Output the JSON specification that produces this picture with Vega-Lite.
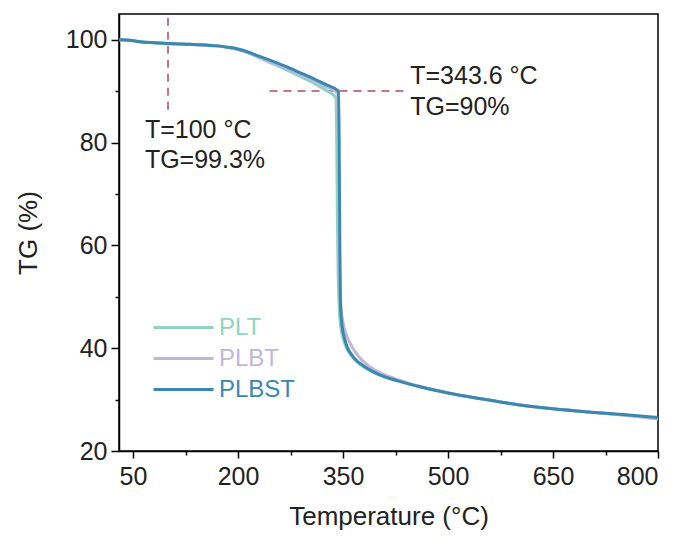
{
  "$schema": "https://vega.github.io/schema/vega-lite/v6.json",
  "autosize": "none",
  "width": 539,
  "height": 437,
  "padding": {"left": 119, "top": 14, "right": 27, "bottom": 87},
  "background": "white",
  "config": {
    "font": "Liberation Sans",
    "view": {"stroke": "black", "strokeWidth": 1.5},
    "axis": {
      "grid": false,
      "domainColor": "black",
      "domainWidth": 1.5,
      "tickColor": "black",
      "tickWidth": 1.5,
      "labelColor": "#222222",
      "titleColor": "#222222",
      "labelFont": "Liberation Sans",
      "titleFont": "Liberation Sans",
      "labelFontSize": 25,
      "titleFontSize": 26,
      "titleFontWeight": "normal"
    }
  },
  "datasets": {
    "curves": [
      {"series": "PLT", "temp": 30, "tg": 100},
      {"series": "PLT", "temp": 45, "tg": 99.9},
      {"series": "PLT", "temp": 60, "tg": 99.6},
      {"series": "PLT", "temp": 80, "tg": 99.4},
      {"series": "PLT", "temp": 100, "tg": 99.25},
      {"series": "PLT", "temp": 130, "tg": 99.1},
      {"series": "PLT", "temp": 155, "tg": 98.95},
      {"series": "PLT", "temp": 170, "tg": 98.8},
      {"series": "PLT", "temp": 185, "tg": 98.5},
      {"series": "PLT", "temp": 200, "tg": 98.1},
      {"series": "PLT", "temp": 215, "tg": 97.4},
      {"series": "PLT", "temp": 230, "tg": 96.5},
      {"series": "PLT", "temp": 250, "tg": 95.3},
      {"series": "PLT", "temp": 270, "tg": 94.1},
      {"series": "PLT", "temp": 290, "tg": 92.8},
      {"series": "PLT", "temp": 310, "tg": 91.4},
      {"series": "PLT", "temp": 325, "tg": 90.2},
      {"series": "PLT", "temp": 338, "tg": 89.0},
      {"series": "PLT", "temp": 340, "tg": 88.5},
      {"series": "PLT", "temp": 341, "tg": 80},
      {"series": "PLT", "temp": 342, "tg": 65},
      {"series": "PLT", "temp": 343, "tg": 55},
      {"series": "PLT", "temp": 344.5, "tg": 48},
      {"series": "PLT", "temp": 347, "tg": 44},
      {"series": "PLT", "temp": 350, "tg": 42},
      {"series": "PLT", "temp": 355, "tg": 40},
      {"series": "PLT", "temp": 362, "tg": 38.5},
      {"series": "PLT", "temp": 370, "tg": 37.3},
      {"series": "PLT", "temp": 380, "tg": 36.3},
      {"series": "PLT", "temp": 395, "tg": 35.2},
      {"series": "PLT", "temp": 410, "tg": 34.4},
      {"series": "PLT", "temp": 430, "tg": 33.6},
      {"series": "PLT", "temp": 460, "tg": 32.5},
      {"series": "PLT", "temp": 500, "tg": 31.3},
      {"series": "PLT", "temp": 550, "tg": 30.1},
      {"series": "PLT", "temp": 600, "tg": 29.0},
      {"series": "PLT", "temp": 650, "tg": 28.2},
      {"series": "PLT", "temp": 700, "tg": 27.6},
      {"series": "PLT", "temp": 750, "tg": 27.0},
      {"series": "PLT", "temp": 800, "tg": 26.3},
      {"series": "PLBT", "temp": 30, "tg": 100},
      {"series": "PLBT", "temp": 45, "tg": 99.9},
      {"series": "PLBT", "temp": 60, "tg": 99.6},
      {"series": "PLBT", "temp": 80, "tg": 99.4},
      {"series": "PLBT", "temp": 100, "tg": 99.25},
      {"series": "PLBT", "temp": 130, "tg": 99.1},
      {"series": "PLBT", "temp": 155, "tg": 98.95},
      {"series": "PLBT", "temp": 170, "tg": 98.8},
      {"series": "PLBT", "temp": 185, "tg": 98.5},
      {"series": "PLBT", "temp": 200, "tg": 98.1},
      {"series": "PLBT", "temp": 215, "tg": 97.45},
      {"series": "PLBT", "temp": 230, "tg": 96.6},
      {"series": "PLBT", "temp": 250, "tg": 95.5},
      {"series": "PLBT", "temp": 270, "tg": 94.4},
      {"series": "PLBT", "temp": 290, "tg": 93.2},
      {"series": "PLBT", "temp": 310, "tg": 91.9},
      {"series": "PLBT", "temp": 325, "tg": 90.9},
      {"series": "PLBT", "temp": 342, "tg": 89.6},
      {"series": "PLBT", "temp": 343.5, "tg": 80},
      {"series": "PLBT", "temp": 344.5, "tg": 65},
      {"series": "PLBT", "temp": 345.5, "tg": 55},
      {"series": "PLBT", "temp": 347, "tg": 48},
      {"series": "PLBT", "temp": 350, "tg": 45},
      {"series": "PLBT", "temp": 355, "tg": 42.5},
      {"series": "PLBT", "temp": 362, "tg": 40.5},
      {"series": "PLBT", "temp": 370, "tg": 38.8},
      {"series": "PLBT", "temp": 380, "tg": 37.3},
      {"series": "PLBT", "temp": 395, "tg": 35.8},
      {"series": "PLBT", "temp": 410, "tg": 34.8},
      {"series": "PLBT", "temp": 430, "tg": 33.8},
      {"series": "PLBT", "temp": 460, "tg": 32.6},
      {"series": "PLBT", "temp": 500, "tg": 31.3},
      {"series": "PLBT", "temp": 550, "tg": 30.1},
      {"series": "PLBT", "temp": 600, "tg": 29.0},
      {"series": "PLBT", "temp": 650, "tg": 28.2},
      {"series": "PLBT", "temp": 700, "tg": 27.6},
      {"series": "PLBT", "temp": 750, "tg": 27.0},
      {"series": "PLBT", "temp": 800, "tg": 26.2},
      {"series": "PLBST", "temp": 30, "tg": 100},
      {"series": "PLBST", "temp": 45, "tg": 99.9},
      {"series": "PLBST", "temp": 60, "tg": 99.6},
      {"series": "PLBST", "temp": 80, "tg": 99.4},
      {"series": "PLBST", "temp": 100, "tg": 99.25},
      {"series": "PLBST", "temp": 130, "tg": 99.1},
      {"series": "PLBST", "temp": 155, "tg": 98.95},
      {"series": "PLBST", "temp": 170, "tg": 98.8},
      {"series": "PLBST", "temp": 185, "tg": 98.55},
      {"series": "PLBST", "temp": 200, "tg": 98.2},
      {"series": "PLBST", "temp": 215, "tg": 97.6},
      {"series": "PLBST", "temp": 230, "tg": 96.8},
      {"series": "PLBST", "temp": 250, "tg": 95.8},
      {"series": "PLBST", "temp": 270, "tg": 94.7},
      {"series": "PLBST", "temp": 290, "tg": 93.5},
      {"series": "PLBST", "temp": 310, "tg": 92.3},
      {"series": "PLBST", "temp": 325, "tg": 91.3},
      {"series": "PLBST", "temp": 343.6, "tg": 90.0},
      {"series": "PLBST", "temp": 344.5, "tg": 80},
      {"series": "PLBST", "temp": 345, "tg": 70},
      {"series": "PLBST", "temp": 345.5, "tg": 60},
      {"series": "PLBST", "temp": 346, "tg": 52},
      {"series": "PLBST", "temp": 347, "tg": 47},
      {"series": "PLBST", "temp": 349, "tg": 44},
      {"series": "PLBST", "temp": 352, "tg": 42},
      {"series": "PLBST", "temp": 356, "tg": 40.2},
      {"series": "PLBST", "temp": 362, "tg": 38.8},
      {"series": "PLBST", "temp": 370, "tg": 37.5},
      {"series": "PLBST", "temp": 380, "tg": 36.5},
      {"series": "PLBST", "temp": 395, "tg": 35.3},
      {"series": "PLBST", "temp": 410, "tg": 34.4},
      {"series": "PLBST", "temp": 430, "tg": 33.6},
      {"series": "PLBST", "temp": 460, "tg": 32.5},
      {"series": "PLBST", "temp": 500, "tg": 31.3},
      {"series": "PLBST", "temp": 550, "tg": 30.1},
      {"series": "PLBST", "temp": 600, "tg": 29.0},
      {"series": "PLBST", "temp": 650, "tg": 28.2},
      {"series": "PLBST", "temp": 700, "tg": 27.6},
      {"series": "PLBST", "temp": 750, "tg": 27.1},
      {"series": "PLBST", "temp": 800, "tg": 26.5}
    ],
    "guides": [
      {"x": 100, "x2": 100, "y": 86.4, "y2": 105},
      {"x": 245, "x2": 440, "y": 90, "y2": 90}
    ],
    "notes": [
      {"x": 67, "y": 80.9, "label": "T=100 °C"},
      {"x": 67, "y": 75.1, "label": "TG=99.3%"},
      {"x": 446, "y": 91.4, "label": "T=343.6 °C"},
      {"x": 446, "y": 85.4, "label": "TG=90%"}
    ]
  },
  "layer": [
    {
      "data": {"name": "guides"},
      "mark": {"type": "rule", "color": "#b5475f", "strokeWidth": 1.5, "strokeDash": [8, 6]},
      "encoding": {
        "x": {"field": "x", "type": "quantitative", "scale": {"domain": [30, 800], "nice": false, "zero": false},
          "title": "Temperature (°C)",
          "axis": {
            "values": [50, 125, 200, 275, 350, 425, 500, 575, 650, 725, 800],
            "labelExpr": "datum.value % 150 == 50 ? datum.label : ''",
            "tickSize": {"condition": {"test": "datum.value % 150 == 50", "value": 7}, "value": 4},
            "labelPadding": 6,
            "titlePadding": 14
          }
        },
        "x2": {"field": "x2"},
        "y": {"field": "y", "type": "quantitative", "scale": {"domain": [20, 105], "nice": false, "zero": false},
          "title": "TG (%)",
          "axis": {
            "values": [20, 30, 40, 50, 60, 70, 80, 90, 100],
            "labelExpr": "datum.value % 20 == 0 ? datum.label : ''",
            "tickSize": {"condition": {"test": "datum.value % 20 == 0", "value": 8}, "value": 4},
            "labelPadding": 4,
            "titlePadding": 24
          }
        },
        "y2": {"field": "y2"}
      }
    },
    {
      "data": {"name": "curves"},
      "transform": [{"filter": "datum.series == 'PLT'"}],
      "mark": {"type": "line", "strokeWidth": 3, "interpolate": "monotone"},
      "encoding": {
        "x": {"field": "temp", "type": "quantitative"},
        "y": {"field": "tg", "type": "quantitative"},
        "color": {"field": "series", "type": "nominal",
          "scale": {"domain": ["PLT", "PLBT", "PLBST"], "range": ["#8fd4c3", "#bfb7da", "#3a87b0"]},
          "legend": {
            "title": null,
            "orient": "none",
            "legendX": 48,
            "legendY": 297,
            "symbolType": "M-2,0L2,0",
            "symbolSize": 900,
            "symbolStrokeWidth": 3,
            "labelFontSize": 24,
            "labelFont": "Liberation Sans",
            "labelOffset": 19,
            "rowPadding": 2,
            "encode": {"labels": {"update": {"fill": {"signal": "scale('color', datum.value)"}}}}
          }
        }
      }
    },
    {
      "data": {"name": "curves"},
      "transform": [{"filter": "datum.series == 'PLBT'"}],
      "mark": {"type": "line", "strokeWidth": 3, "interpolate": "monotone"},
      "encoding": {
        "x": {"field": "temp", "type": "quantitative"},
        "y": {"field": "tg", "type": "quantitative"},
        "color": {"field": "series", "type": "nominal"}
      }
    },
    {
      "data": {"name": "curves"},
      "transform": [{"filter": "datum.series == 'PLBST'"}],
      "mark": {"type": "line", "strokeWidth": 3, "interpolate": "monotone"},
      "encoding": {
        "x": {"field": "temp", "type": "quantitative"},
        "y": {"field": "tg", "type": "quantitative"},
        "color": {"field": "series", "type": "nominal"}
      }
    },
    {
      "data": {"name": "notes"},
      "mark": {"type": "text", "align": "left", "baseline": "alphabetic", "fontSize": 25, "font": "Liberation Sans", "color": "#222222"},
      "encoding": {
        "x": {"field": "x", "type": "quantitative"},
        "y": {"field": "y", "type": "quantitative"},
        "text": {"field": "label"}
      }
    }
  ]
}
